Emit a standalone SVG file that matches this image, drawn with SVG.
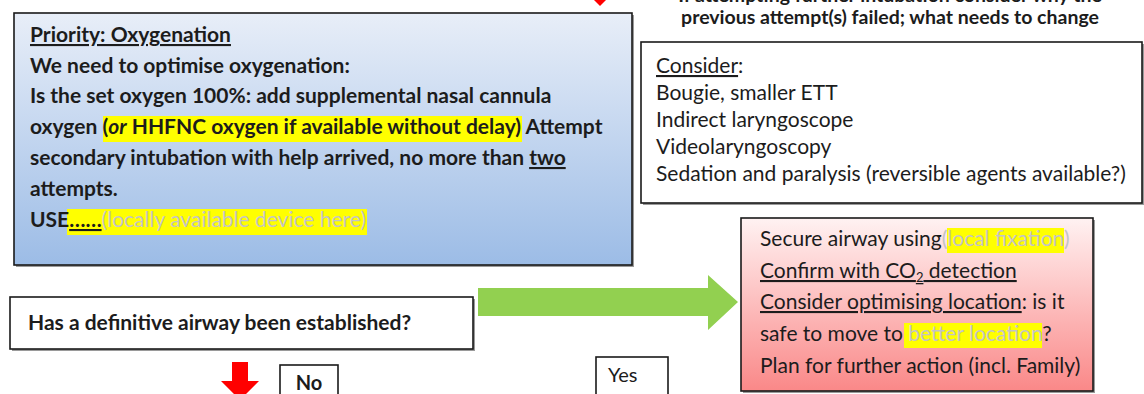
<svg xmlns="http://www.w3.org/2000/svg" width="1144" height="394" viewBox="0 0 1144 394">
<style>
.t{font-family:Lato,"Open Sans","Liberation Sans",sans-serif;fill:#1c1c1c}
.b{font-weight:bold}
.g{fill:#c4c4c4}
.u{text-decoration:underline}
.box{stroke:#1a1a1a;stroke-width:1.6}
.sh{fill:#9a9a9a}
.hl{fill:#ffff00}
</style>
<defs>
<linearGradient id="blue" x1="0" y1="0" x2="0" y2="1">
<stop offset="0" stop-color="#e8eef8"/>
<stop offset="1" stop-color="#9cbce6"/>
</linearGradient>
<linearGradient id="pink" x1="0" y1="0" x2="0" y2="1">
<stop offset="0" stop-color="#fff2f2"/>
<stop offset="1" stop-color="#fa8888"/>
</linearGradient>
</defs>

<g id="top-arrow">
<polygon points="594,0 606,0 600,6" fill="#ff0000"/>
</g>

<g id="top-note">
<text class="t b" x="890" y="2" font-size="19.5" text-anchor="middle">If attempting further intubation consider why the</text>
<text class="t b" x="890" y="24" font-size="19.5" text-anchor="middle">previous attempt(s) failed; what needs to change</text>
</g>

<g id="oxygenation">
<rect x="16" y="15" width="618" height="252" class="sh"/>
<rect x="14" y="13" width="618" height="252" fill="url(#blue)" class="box"/>
<rect x="103" y="116" width="419" height="26" class="hl"/>
<rect x="67" y="209" width="300" height="26" class="hl"/>
<text class="t b" font-size="21">
<tspan x="30" y="42" class="u">Priority: Oxygenation</tspan>
<tspan x="30" y="73">We need to optimise oxygenation:</tspan>
<tspan x="30" y="103">Is the set oxygen 100%: add supplemental nasal cannula</tspan>
<tspan x="30" y="134">oxygen (<tspan font-style="italic">or</tspan> HHFNC oxygen if available without delay) Attempt</tspan>
<tspan x="30" y="165">secondary intubation with help arrived, no more than <tspan class="u">two</tspan></tspan>
<tspan x="30" y="196">attempts.</tspan>
<tspan x="30" y="227">USE<tspan class="u">……</tspan><tspan class="g" font-weight="normal">(locally available device here)</tspan></tspan>
</text>
</g>

<g id="consider">
<rect x="643" y="44" width="501" height="161" class="sh"/>
<rect x="641" y="42" width="501" height="161" fill="#ffffff" class="box"/>
<text class="t" font-size="21">
<tspan x="656" y="73"><tspan class="u">Consider</tspan>:</tspan>
<tspan x="656" y="100">Bougie, smaller ETT</tspan>
<tspan x="656" y="127">Indirect laryngoscope</tspan>
<tspan x="656" y="154">Videolaryngoscopy</tspan>
<tspan x="656" y="181">Sedation and paralysis (reversible agents available?)</tspan>
</text>
</g>

<g id="question">
<rect x="12" y="299" width="463" height="52" class="sh"/>
<rect x="10" y="297" width="463" height="52" fill="#ffffff" class="box"/>
<text class="t b" font-size="21" x="28" y="330">Has a definitive airway been established?</text>
</g>

<g id="secure">
<rect x="743" y="220" width="352" height="173" class="sh"/>
<rect x="741" y="218" width="352" height="173" fill="url(#pink)" class="box"/>
<rect x="947" y="228" width="117" height="25" class="hl"/>
<rect x="904" y="323" width="138" height="25" class="hl"/>
<text class="t" font-size="21">
<tspan x="760" y="246">Secure airway using<tspan class="g">(local fixation)</tspan></tspan>
<tspan x="760" y="278" class="u">Confirm with CO<tspan font-size="13" dy="4">2</tspan><tspan dy="-4"> detection</tspan></tspan>
<tspan x="760" y="309"><tspan class="u">Consider optimising location</tspan>: is it</tspan>
<tspan x="760" y="341">safe to move to <tspan class="g">better location</tspan>?</tspan>
<tspan x="760" y="373">Plan for further action (incl. Family)</tspan>
</text>
</g>

<g id="no-label">
<rect x="280" y="365" width="58" height="32" fill="#ffffff" class="box"/>
<text class="t b" font-size="20" x="309" y="390" text-anchor="middle">No</text>
</g>

<g id="yes-label">
<rect x="596" y="357" width="72" height="40" fill="#ffffff" class="box"/>
<text class="t" font-size="20" x="608" y="382">Yes</text>
</g>

<g id="connectors">
<polygon points="478,288 708,288 708,275 738,302 708,330 708,316 478,316" fill="#92d050"/>
<polygon points="232,362 248,362 248,381 259,381 240,400 221,381 232,381" fill="#ff0000"/>
</g>
</svg>
